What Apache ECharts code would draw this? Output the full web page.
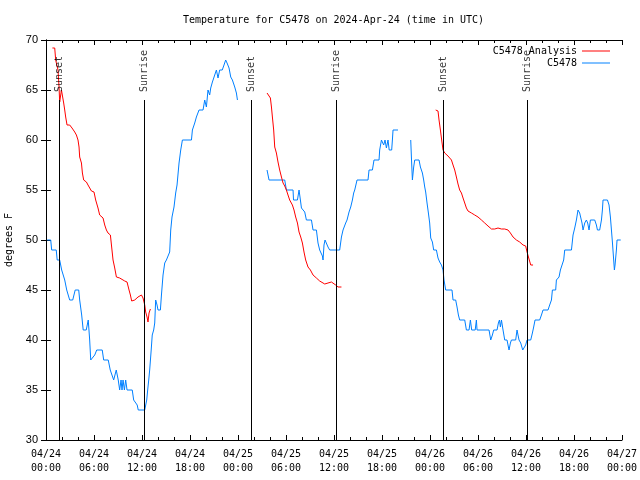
<!DOCTYPE html>
<html>
<head>
<meta charset="utf-8">
<script src="https://cdn.jsdelivr.net/npm/echarts@6/dist/echarts.min.js"></script>
<style>html,body{margin:0;padding:0;background:#fff}#c{width:640px;height:480px}</style>
</head>
<body>
<div id="c"></div>
<script>
// Hours since 2024-04-24 00:00 UTC, temperature in degrees F
const obsSeg1 = [[0.15,50],[0.59,50],[0.71,49],[1.28,49],[1.4,48],[1.71,48],[1.96,47],[2.21,47],[2.34,46],[2.59,45],[2.84,45],[2.96,44],[3.34,44],[3.65,45],[4.09,45],[4.21,44],[4.46,42.5],[4.65,41],[5.03,41],[5.28,42],[5.46,40],[5.59,38],[5.84,38],[6.09,38.5],[6.34,39],[7.03,39],[7.21,38],[7.78,38],[8.03,37],[8.28,37],[8.46,36],[8.71,36],[8.78,37],[8.9,37],[9.03,36],[9.21,35],[9.38,36],[9.5,35],[9.63,36],[9.8,35],[9.96,36],[10.13,35],[10.78,35],[10.96,34],[11.21,34],[11.4,33.5],[11.53,33],[12.34,33],[12.59,34],[12.71,35],[12.84,36],[12.96,37],[13.15,39],[13.28,40.5],[13.46,41],[13.59,41.7],[13.71,44],[13.88,43.5],[14.0,43],[14.3,43],[14.43,44.5],[14.63,46.5],[14.84,47.7],[15.05,48],[15.25,48],[15.46,48.8],[15.59,51],[15.75,52.3],[16.0,53.3],[16.21,54.7],[16.38,55.5],[16.63,57.7],[16.84,59],[17.05,60],[18.18,60],[18.3,61],[18.59,61.7],[18.8,62.3],[19.13,63],[19.63,63],[19.84,64],[20.05,63.3],[20.25,65],[20.46,64.5],[20.59,65.2],[20.8,65.8],[20.93,66],[21.3,67],[21.5,66.2],[21.71,67],[22.03,67],[22.25,67.5],[22.46,68],[22.63,67.7],[22.88,67.2],[23.09,66.3],[23.3,66],[23.46,65.8],[23.59,65.3],[23.8,64.7],[23.93,64]];
const obsSeg2 = [[27.63,57],[27.88,56],[29.84,56],[30.05,55],[30.88,55],[30.94,54],[31.43,54],[31.63,55],[31.8,54],[31.93,53.2],[32.34,52.8],[32.55,52],[33.18,52],[33.38,51],[33.8,51],[34.0,49.7],[34.21,49],[34.43,49],[34.55,48.4],[34.63,48],[34.75,49.5],[34.88,50],[35.13,50],[35.25,49.3],[35.46,49],[36.71,49],[36.93,50.3],[37.13,51],[37.46,51.7],[37.63,52],[37.88,52.8],[38.09,53.3],[38.3,54],[38.46,54.7],[38.59,55],[38.88,56],[40.25,56],[40.38,57],[40.8,57],[41.0,58],[41.63,58],[41.71,59],[41.93,60],[42.21,59.5],[42.38,60],[42.55,59.2],[42.75,60],[42.9,59],[43.21,59],[43.3,60],[43.38,61],[44.0,61]];
const obsSeg3 = [[45.59,60],[45.68,58.2],[45.8,56],[45.96,57.3],[46.09,58],[46.63,58],[46.8,57.3],[47.05,56.7],[47.21,56],[47.34,55.3],[47.46,54.8],[47.63,53.7],[47.8,52.7],[47.96,51.7],[48.09,50.2],[48.3,49.8],[48.46,49],[48.8,49],[49.0,48.2],[49.21,47.8],[49.43,47.5],[49.63,47],[49.75,46],[49.96,45],[50.75,45],[50.88,44],[51.21,44],[51.38,43.3],[51.55,42.5],[51.71,42],[52.34,42],[52.55,41],[52.88,41],[53.05,42],[53.21,41],[53.65,41],[53.8,42],[53.88,41],[55.38,41],[55.59,40],[55.8,40.5],[55.96,41],[56.38,41],[56.55,41.7],[56.68,42],[56.8,41.3],[56.93,42],[57.13,41],[57.34,40],[57.63,40],[57.75,39.5],[57.88,39],[58.05,39.7],[58.18,40],[58.71,40],[58.88,41],[59.0,40.5],[59.13,40],[59.34,39.7],[59.59,39],[59.84,39],[59.96,39.5],[60.13,40],[60.59,40],[60.8,40.7],[60.96,41.3],[61.13,42],[61.71,42],[61.93,42.5],[62.13,43],[62.75,43],[62.96,43.5],[63.18,44],[63.3,45],[63.71,45],[63.8,46],[64.13,46.3],[64.3,47],[64.55,47],[64.71,48],[64.84,49],[65.68,49],[65.88,50.5],[66.09,51.2],[66.3,52],[66.5,53],[66.71,52.7],[67.0,51.7],[67.13,51],[67.34,51.7],[67.55,52],[67.71,51.7],[67.88,51],[68.05,52],[68.59,52],[68.8,51.5],[68.93,51],[69.21,51],[69.43,52],[69.55,53],[69.63,54],[70.18,54],[70.38,53.5],[70.55,52.3],[70.8,49.8],[70.96,48],[71.05,47],[71.13,47.5],[71.3,49],[71.38,50],[71.84,50]];
const anaSeg1 = [[0.8,69.2],[1.09,69.2],[1.21,68],[1.38,68],[1.5,67],[1.63,65.3],[1.71,63.8],[1.8,64.3],[1.93,65],[2.05,64.8],[2.21,63.7],[2.34,63],[2.46,62.3],[2.63,61.5],[2.96,61.5],[3.25,61.2],[3.59,60.8],[3.8,60.5],[4.0,60],[4.13,59.3],[4.21,58.3],[4.43,57.7],[4.55,56.7],[4.71,56],[5.05,55.8],[5.25,55.5],[5.68,54.9],[6.0,54.8],[6.21,54],[6.5,53.2],[6.71,52.5],[6.93,52.3],[7.13,52.2],[7.34,51.5],[7.55,51],[7.75,50.7],[8.05,50.5],[8.18,49.5],[8.38,48],[8.59,47.2],[8.8,46.3],[9.21,46.2],[9.84,45.9],[10.13,45.8],[10.38,45],[10.55,44.5],[10.71,43.9],[11.09,44],[11.5,44.3],[11.93,44.5],[12.13,44.2],[12.34,43.5],[12.46,42.8],[12.63,42.3],[12.75,41.8],[12.88,42.7],[13.05,43.1]];
const anaSeg2 = [[27.63,64.7],[27.88,64.7],[28.05,64.2],[28.18,63.3],[28.3,62.3],[28.46,61],[28.59,59.3],[28.8,58.7],[29.0,57.8],[29.21,57],[29.43,56.3],[29.63,55.7],[29.84,55.4],[30.05,55],[30.25,54.5],[30.46,54],[30.8,53.5],[31.0,53],[31.21,52.3],[31.43,51.7],[31.63,50.8],[31.84,50.3],[32.05,49.7],[32.25,48.8],[32.46,48],[32.75,47.3],[33.05,47],[33.38,46.5],[33.8,46.2],[34.21,45.9],[34.84,45.6],[35.25,45.7],[35.68,45.8],[35.88,45.7],[36.21,45.5],[36.5,45.3],[36.71,45.1],[36.93,45.3]];
const anaSeg3 = [[48.71,63],[49.0,62.9],[49.13,62],[49.3,61],[49.46,60],[49.63,59],[49.84,58.7],[50.25,58.4],[50.68,58],[50.88,57.5],[51.09,57],[51.3,56.3],[51.5,55.6],[51.71,55],[51.93,54.7],[52.13,54.2],[52.34,53.7],[52.55,53.2],[52.75,52.9],[53.18,52.7],[53.59,52.5],[54.0,52.3],[54.43,52],[54.84,51.7],[55.25,51.4],[55.68,51.1],[56.09,51.1],[56.5,51.2],[56.93,51.1],[57.34,51.1],[57.75,51],[58.05,50.7],[58.38,50.3],[58.8,50],[59.21,49.8],[59.63,49.5],[59.96,49.4],[60.13,48.8],[60.34,48.2],[60.59,47.5],[60.88,47.5]];
const sunTimes = [1.63, 12.25, 25.67, 36.25, 49.63, 60.13];
const sunLabels = ['Sunset', 'Sunrise', 'Sunset', 'Sunrise', 'Sunset', 'Sunrise'];
const yTicks = [30, 35, 40, 45, 50, 55, 60, 65, 70];
const startDay = 24;

const obsData = [].concat(obsSeg1, [[24.5, null]], obsSeg2, [[44.5, null]], obsSeg3);
const anaData = [].concat(anaSeg1, [[20, null]], anaSeg2, [[42, null]], anaSeg3);
const mono = 'DejaVu Sans Mono';
const lineTop = 64;
const labelY = 64.8;

function xLabel(v) {
  const d = startDay + Math.floor(v / 24);
  const h = v % 24;
  return '04/' + String(d).padStart(2, '0') + '\n' + String(h).padStart(2, '0') + ':00';
}

const chart = echarts.init(document.getElementById('c'), null, {renderer: 'canvas'});
const tickStyle = {inside: true, length: 5, lineStyle: {color: '#000', width: 1}};
chart.setOption({
  animation: false,
  backgroundColor: '#fff',
  title: {
    text: 'Temperature for C5478 on 2024-Apr-24 (time in UTC)',
    left: 178, top: 10, padding: 5,
    textStyle: {fontFamily: mono, fontSize: 10, fontWeight: 'normal', color: '#000'}
  },
  legend: {
    data: [
      {name: 'C5478 Analysis', icon: 'rect'},
      {name: 'C5478', icon: 'rect'}
    ],
    orient: 'vertical', right: 25, top: 41, align: 'right',
    itemWidth: 28, itemHeight: 1, itemGap: 2,
    textStyle: {fontFamily: mono, fontSize: 10, color: '#000'}
  },
  grid: {left: 46, right: 18, top: 40, bottom: 40, outerBoundsMode: 'none', containLabel: false},
  xAxis: [{
    type: 'value', min: 0, max: 72, interval: 6,
    axisLine: {show: true, lineStyle: {color: '#000', width: 1}},
    axisTick: tickStyle,
    minorTick: {show: true, splitNumber: 3, length: 3, lineStyle: {color: '#000'}},
    splitLine: {show: false},
    axisLabel: {formatter: xLabel, fontFamily: mono, fontSize: 10, color: '#000', lineHeight: 14, margin: 7}
  }, {
    type: 'value', min: 0, max: 72, interval: 6, position: 'top',
    axisLine: {show: true, lineStyle: {color: '#000', width: 1}},
    axisTick: tickStyle,
    minorTick: {show: true, splitNumber: 3, length: 3, lineStyle: {color: '#000'}},
    splitLine: {show: false}, axisLabel: {show: false}
  }],
  yAxis: [{
    type: 'value', min: 30, max: 70, interval: 5,
    name: 'degrees F', nameLocation: 'middle', nameGap: 31, nameRotate: 90,
    nameTextStyle: {fontFamily: mono, fontSize: 10, color: '#000'},
    axisLine: {show: true, lineStyle: {color: '#000', width: 1}},
    axisTick: tickStyle, splitLine: {show: false},
    axisLabel: {fontFamily: 'Liberation Sans', fontSize: 11, color: '#000', margin: 8,
      formatter: v => yTicks.indexOf(v) >= 0 ? String(v) : ''}
  }, {
    type: 'value', min: 30, max: 70, interval: 5, position: 'right',
    axisLine: {show: true, lineStyle: {color: '#000', width: 1}},
    axisTick: tickStyle, splitLine: {show: false}, axisLabel: {show: false}
  }],
  series: [
    {
      name: 'C5478 Analysis', type: 'line', data: anaData, showSymbol: false, symbol: 'none',
      connectNulls: false, color: '#ff0000', lineStyle: {width: 1, color: '#ff0000'}, z: 3
    },
    {
      name: 'C5478', type: 'line', data: obsData, showSymbol: false, symbol: 'none',
      connectNulls: false, color: '#0080ff', lineStyle: {width: 1, color: '#0080ff'}, z: 2
    },
    {
      name: 'sun', type: 'scatter', symbolSize: 0, silent: true,
      data: sunTimes.map((t, i) => ({value: [t, labelY], label: {formatter: sunLabels[i]}})),
      label: {show: true, position: 'inside', rotate: 90, align: 'left', verticalAlign: 'middle',
        offset: [0, 0], fontFamily: mono, fontSize: 10, color: '#000'},
      markLine: {
        silent: true, symbol: 'none', label: {show: false},
        lineStyle: {color: '#000', width: 1, type: 'solid'},
        data: sunTimes.map(t => [{coord: [t, 30]}, {coord: [t, lineTop]}])
      },
      z: 4
    }
  ]
});
</script>
</body>
</html>
